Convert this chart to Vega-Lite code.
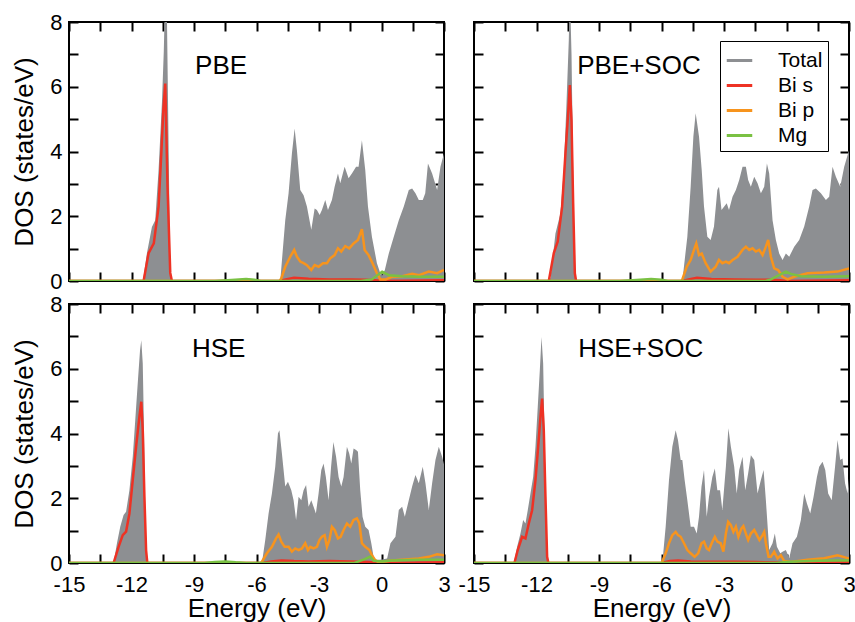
{
"$schema": "https://vega.github.io/schema/vega-lite/v6.json",
"background": "white",
"padding": {"left": 10, "top": 10, "right": 5, "bottom": 0},
"config": {
  "font": "Liberation Sans",
  "view": {"stroke": "black", "strokeWidth": 2},
  "axis": {"domain": false, "grid": false, "tickColor": "black", "tickWidth": 2, "tickSize": -9, "labelColor": "black", "labelFontSize": 22, "labelFlush": false, "labelOverlap": false, "titleColor": "black", "titleFontSize": 26, "titleFontWeight": "normal"}
},
"datasets": {
"dos": [
{"p":"PBE","k":"Total","e":-15,"v":0},{"p":"PBE","k":"Total","e":-11.45,"v":0},{"p":"PBE","k":"Total","e":-11.26,"v":0.86},{"p":"PBE","k":"Total","e":-11.02,"v":1.67},{"p":"PBE","k":"Total","e":-10.86,"v":1.88},{"p":"PBE","k":"Total","e":-10.7,"v":3.43},{"p":"PBE","k":"Total","e":-10.54,"v":5.5},{"p":"PBE","k":"Total","e":-10.45,"v":7.1},{"p":"PBE","k":"Total","e":-10.38,"v":9},{"p":"PBE","k":"Total","e":-10.3,"v":8.2},{"p":"PBE","k":"Total","e":-10.21,"v":3.7},{"p":"PBE","k":"Total","e":-10.14,"v":0.3},{"p":"PBE","k":"Total","e":-10.05,"v":0},{"p":"PBE","k":"Total","e":-7.5,"v":0},{"p":"PBE","k":"Total","e":-7,"v":0.03},{"p":"PBE","k":"Total","e":-6.5,"v":0.05},{"p":"PBE","k":"Total","e":-6.1,"v":0.03},{"p":"PBE","k":"Total","e":-5.6,"v":0},{"p":"PBE","k":"Total","e":-4.86,"v":0},{"p":"PBE","k":"Total","e":-4.62,"v":1.88},{"p":"PBE","k":"Total","e":-4.46,"v":2.71},{"p":"PBE","k":"Total","e":-4.3,"v":3.94},{"p":"PBE","k":"Total","e":-4.17,"v":4.71},{"p":"PBE","k":"Total","e":-4.06,"v":4.04},{"p":"PBE","k":"Total","e":-3.9,"v":2.81},{"p":"PBE","k":"Total","e":-3.74,"v":2.65},{"p":"PBE","k":"Total","e":-3.58,"v":2.3},{"p":"PBE","k":"Total","e":-3.37,"v":1.58},{"p":"PBE","k":"Total","e":-3.21,"v":2.24},{"p":"PBE","k":"Total","e":-3.1,"v":2.19},{"p":"PBE","k":"Total","e":-2.97,"v":2.04},{"p":"PBE","k":"Total","e":-2.86,"v":2.19},{"p":"PBE","k":"Total","e":-2.7,"v":2.5},{"p":"PBE","k":"Total","e":-2.57,"v":2.19},{"p":"PBE","k":"Total","e":-2.38,"v":2.5},{"p":"PBE","k":"Total","e":-2.25,"v":2.91},{"p":"PBE","k":"Total","e":-2.09,"v":3.32},{"p":"PBE","k":"Total","e":-1.98,"v":3.02},{"p":"PBE","k":"Total","e":-1.77,"v":3.53},{"p":"PBE","k":"Total","e":-1.58,"v":3.17},{"p":"PBE","k":"Total","e":-1.42,"v":3.32},{"p":"PBE","k":"Total","e":-1.22,"v":3.53},{"p":"PBE","k":"Total","e":-1.1,"v":3.53},{"p":"PBE","k":"Total","e":-0.94,"v":4.35},{"p":"PBE","k":"Total","e":-0.78,"v":3.43},{"p":"PBE","k":"Total","e":-0.65,"v":2.3},{"p":"PBE","k":"Total","e":-0.46,"v":1.37},{"p":"PBE","k":"Total","e":-0.22,"v":0.55},{"p":"PBE","k":"Total","e":0,"v":0.13},{"p":"PBE","k":"Total","e":0.16,"v":0.34},{"p":"PBE","k":"Total","e":0.35,"v":0.85},{"p":"PBE","k":"Total","e":0.59,"v":1.37},{"p":"PBE","k":"Total","e":0.83,"v":1.88},{"p":"PBE","k":"Total","e":1.07,"v":2.3},{"p":"PBE","k":"Total","e":1.31,"v":2.81},{"p":"PBE","k":"Total","e":1.47,"v":2.86},{"p":"PBE","k":"Total","e":1.63,"v":2.71},{"p":"PBE","k":"Total","e":1.79,"v":2.5},{"p":"PBE","k":"Total","e":1.98,"v":2.5},{"p":"PBE","k":"Total","e":2.1,"v":2.71},{"p":"PBE","k":"Total","e":2.23,"v":3.63},{"p":"PBE","k":"Total","e":2.43,"v":3.32},{"p":"PBE","k":"Total","e":2.67,"v":2.81},{"p":"PBE","k":"Total","e":2.83,"v":3.53},{"p":"PBE","k":"Total","e":3,"v":3.94},
{"p":"PBE","k":"Bi s","e":-15,"v":0},{"p":"PBE","k":"Bi s","e":-11.42,"v":0},{"p":"PBE","k":"Bi s","e":-11.18,"v":0.86},{"p":"PBE","k":"Bi s","e":-10.93,"v":1.16},{"p":"PBE","k":"Bi s","e":-10.7,"v":2.3},{"p":"PBE","k":"Bi s","e":-10.57,"v":3.94},{"p":"PBE","k":"Bi s","e":-10.47,"v":5.3},{"p":"PBE","k":"Bi s","e":-10.38,"v":6.1},{"p":"PBE","k":"Bi s","e":-10.27,"v":2.9},{"p":"PBE","k":"Bi s","e":-10.14,"v":0.25},{"p":"PBE","k":"Bi s","e":-10.06,"v":0},{"p":"PBE","k":"Bi s","e":-4.9,"v":0},{"p":"PBE","k":"Bi s","e":-4.6,"v":0.05},{"p":"PBE","k":"Bi s","e":-4.2,"v":0.1},{"p":"PBE","k":"Bi s","e":-3.5,"v":0.07},{"p":"PBE","k":"Bi s","e":-2.5,"v":0.05},{"p":"PBE","k":"Bi s","e":-1.5,"v":0.05},{"p":"PBE","k":"Bi s","e":-0.8,"v":0.04},{"p":"PBE","k":"Bi s","e":-0.3,"v":0.02},{"p":"PBE","k":"Bi s","e":0,"v":0},{"p":"PBE","k":"Bi s","e":3,"v":0.02},
{"p":"PBE","k":"Bi p","e":-15,"v":0},{"p":"PBE","k":"Bi p","e":-4.9,"v":0},{"p":"PBE","k":"Bi p","e":-4.81,"v":0.08},{"p":"PBE","k":"Bi p","e":-4.62,"v":0.44},{"p":"PBE","k":"Bi p","e":-4.38,"v":0.75},{"p":"PBE","k":"Bi p","e":-4.19,"v":0.96},{"p":"PBE","k":"Bi p","e":-4.06,"v":0.75},{"p":"PBE","k":"Bi p","e":-3.9,"v":0.6},{"p":"PBE","k":"Bi p","e":-3.74,"v":0.55},{"p":"PBE","k":"Bi p","e":-3.58,"v":0.49},{"p":"PBE","k":"Bi p","e":-3.37,"v":0.34},{"p":"PBE","k":"Bi p","e":-3.21,"v":0.49},{"p":"PBE","k":"Bi p","e":-3.02,"v":0.44},{"p":"PBE","k":"Bi p","e":-2.81,"v":0.55},{"p":"PBE","k":"Bi p","e":-2.62,"v":0.55},{"p":"PBE","k":"Bi p","e":-2.46,"v":0.7},{"p":"PBE","k":"Bi p","e":-2.25,"v":0.8},{"p":"PBE","k":"Bi p","e":-2.09,"v":1.01},{"p":"PBE","k":"Bi p","e":-1.93,"v":0.91},{"p":"PBE","k":"Bi p","e":-1.74,"v":1.08},{"p":"PBE","k":"Bi p","e":-1.55,"v":1.01},{"p":"PBE","k":"Bi p","e":-1.34,"v":1.16},{"p":"PBE","k":"Bi p","e":-1.13,"v":1.27},{"p":"PBE","k":"Bi p","e":-0.94,"v":1.6},{"p":"PBE","k":"Bi p","e":-0.81,"v":0.96},{"p":"PBE","k":"Bi p","e":-0.62,"v":0.8},{"p":"PBE","k":"Bi p","e":-0.43,"v":0.55},{"p":"PBE","k":"Bi p","e":-0.22,"v":0.24},{"p":"PBE","k":"Bi p","e":-0.06,"v":0.05},{"p":"PBE","k":"Bi p","e":0.2,"v":0.05},{"p":"PBE","k":"Bi p","e":0.51,"v":0.13},{"p":"PBE","k":"Bi p","e":1,"v":0.15},{"p":"PBE","k":"Bi p","e":1.47,"v":0.22},{"p":"PBE","k":"Bi p","e":1.8,"v":0.18},{"p":"PBE","k":"Bi p","e":2.27,"v":0.29},{"p":"PBE","k":"Bi p","e":2.67,"v":0.24},{"p":"PBE","k":"Bi p","e":3,"v":0.34},
{"p":"PBE","k":"Mg","e":-15,"v":0},{"p":"PBE","k":"Mg","e":-8,"v":0},{"p":"PBE","k":"Mg","e":-7.2,"v":0.03},{"p":"PBE","k":"Mg","e":-6.5,"v":0.06},{"p":"PBE","k":"Mg","e":-6.1,"v":0.04},{"p":"PBE","k":"Mg","e":-5.8,"v":0},{"p":"PBE","k":"Mg","e":-1,"v":0},{"p":"PBE","k":"Mg","e":-0.46,"v":0.05},{"p":"PBE","k":"Mg","e":0.03,"v":0.29},{"p":"PBE","k":"Mg","e":0.35,"v":0.18},{"p":"PBE","k":"Mg","e":0.99,"v":0.15},{"p":"PBE","k":"Mg","e":1.79,"v":0.13},{"p":"PBE","k":"Mg","e":3,"v":0.13},

{"p":"PBE+SOC","k":"Total","e":-15,"v":0},{"p":"PBE+SOC","k":"Total","e":-11.4,"v":0},{"p":"PBE+SOC","k":"Total","e":-11.33,"v":0.1},{"p":"PBE+SOC","k":"Total","e":-11.09,"v":1.47},{"p":"PBE+SOC","k":"Total","e":-10.85,"v":2.09},{"p":"PBE+SOC","k":"Total","e":-10.69,"v":3.43},{"p":"PBE+SOC","k":"Total","e":-10.56,"v":5.49},{"p":"PBE+SOC","k":"Total","e":-10.45,"v":7.44},{"p":"PBE+SOC","k":"Total","e":-10.4,"v":9},{"p":"PBE+SOC","k":"Total","e":-10.32,"v":7.03},{"p":"PBE+SOC","k":"Total","e":-10.24,"v":3.43},{"p":"PBE+SOC","k":"Total","e":-10.16,"v":0.24},{"p":"PBE+SOC","k":"Total","e":-10.08,"v":0},{"p":"PBE+SOC","k":"Total","e":-7.5,"v":0},{"p":"PBE+SOC","k":"Total","e":-7,"v":0.03},{"p":"PBE+SOC","k":"Total","e":-6.5,"v":0.05},{"p":"PBE+SOC","k":"Total","e":-6,"v":0.03},{"p":"PBE+SOC","k":"Total","e":-5.5,"v":0},{"p":"PBE+SOC","k":"Total","e":-5,"v":0},{"p":"PBE+SOC","k":"Total","e":-4.76,"v":1.37},{"p":"PBE+SOC","k":"Total","e":-4.6,"v":2.91},{"p":"PBE+SOC","k":"Total","e":-4.47,"v":4.46},{"p":"PBE+SOC","k":"Total","e":-4.36,"v":5.18},{"p":"PBE+SOC","k":"Total","e":-4.2,"v":4.46},{"p":"PBE+SOC","k":"Total","e":-4.07,"v":3.43},{"p":"PBE+SOC","k":"Total","e":-3.96,"v":2.3},{"p":"PBE+SOC","k":"Total","e":-3.8,"v":1.37},{"p":"PBE+SOC","k":"Total","e":-3.64,"v":1.27},{"p":"PBE+SOC","k":"Total","e":-3.48,"v":1.68},{"p":"PBE+SOC","k":"Total","e":-3.32,"v":2.81},{"p":"PBE+SOC","k":"Total","e":-3.24,"v":2.91},{"p":"PBE+SOC","k":"Total","e":-3.12,"v":2.19},{"p":"PBE+SOC","k":"Total","e":-2.99,"v":2.3},{"p":"PBE+SOC","k":"Total","e":-2.87,"v":2.4},{"p":"PBE+SOC","k":"Total","e":-2.76,"v":2.19},{"p":"PBE+SOC","k":"Total","e":-2.59,"v":2.6},{"p":"PBE+SOC","k":"Total","e":-2.43,"v":2.81},{"p":"PBE+SOC","k":"Total","e":-2.27,"v":3.12},{"p":"PBE+SOC","k":"Total","e":-2.11,"v":3.53},{"p":"PBE+SOC","k":"Total","e":-1.95,"v":3.53},{"p":"PBE+SOC","k":"Total","e":-1.84,"v":3.12},{"p":"PBE+SOC","k":"Total","e":-1.71,"v":2.91},{"p":"PBE+SOC","k":"Total","e":-1.55,"v":3.22},{"p":"PBE+SOC","k":"Total","e":-1.39,"v":3.02},{"p":"PBE+SOC","k":"Total","e":-1.23,"v":2.71},{"p":"PBE+SOC","k":"Total","e":-1.07,"v":2.91},{"p":"PBE+SOC","k":"Total","e":-0.94,"v":3.63},{"p":"PBE+SOC","k":"Total","e":-0.83,"v":3.32},{"p":"PBE+SOC","k":"Total","e":-0.67,"v":1.88},{"p":"PBE+SOC","k":"Total","e":-0.51,"v":1.27},{"p":"PBE+SOC","k":"Total","e":-0.35,"v":0.85},{"p":"PBE+SOC","k":"Total","e":-0.19,"v":0.65},{"p":"PBE+SOC","k":"Total","e":-0.03,"v":0.85},{"p":"PBE+SOC","k":"Total","e":0.13,"v":0.75},{"p":"PBE+SOC","k":"Total","e":0.37,"v":1.06},{"p":"PBE+SOC","k":"Total","e":0.61,"v":1.27},{"p":"PBE+SOC","k":"Total","e":0.85,"v":1.68},{"p":"PBE+SOC","k":"Total","e":1.09,"v":2.3},{"p":"PBE+SOC","k":"Total","e":1.25,"v":2.81},{"p":"PBE+SOC","k":"Total","e":1.41,"v":2.86},{"p":"PBE+SOC","k":"Total","e":1.65,"v":2.71},{"p":"PBE+SOC","k":"Total","e":1.89,"v":2.5},{"p":"PBE+SOC","k":"Total","e":2.05,"v":2.6},{"p":"PBE+SOC","k":"Total","e":2.21,"v":3.53},{"p":"PBE+SOC","k":"Total","e":2.37,"v":3.22},{"p":"PBE+SOC","k":"Total","e":2.58,"v":2.91},{"p":"PBE+SOC","k":"Total","e":2.77,"v":3.53},{"p":"PBE+SOC","k":"Total","e":3,"v":4.04},
{"p":"PBE+SOC","k":"Bi s","e":-15,"v":0},{"p":"PBE+SOC","k":"Bi s","e":-11.41,"v":0},{"p":"PBE+SOC","k":"Bi s","e":-11.17,"v":0.86},{"p":"PBE+SOC","k":"Bi s","e":-10.98,"v":1.22},{"p":"PBE+SOC","k":"Bi s","e":-10.77,"v":2.3},{"p":"PBE+SOC","k":"Bi s","e":-10.61,"v":3.95},{"p":"PBE+SOC","k":"Bi s","e":-10.48,"v":5.18},{"p":"PBE+SOC","k":"Bi s","e":-10.4,"v":6.05},{"p":"PBE+SOC","k":"Bi s","e":-10.32,"v":4.97},{"p":"PBE+SOC","k":"Bi s","e":-10.24,"v":2.4},{"p":"PBE+SOC","k":"Bi s","e":-10.16,"v":0.24},{"p":"PBE+SOC","k":"Bi s","e":-10.1,"v":0},{"p":"PBE+SOC","k":"Bi s","e":-5,"v":0},{"p":"PBE+SOC","k":"Bi s","e":-4.7,"v":0.05},{"p":"PBE+SOC","k":"Bi s","e":-4.3,"v":0.1},{"p":"PBE+SOC","k":"Bi s","e":-3.6,"v":0.06},{"p":"PBE+SOC","k":"Bi s","e":-2.5,"v":0.05},{"p":"PBE+SOC","k":"Bi s","e":-1.5,"v":0.04},{"p":"PBE+SOC","k":"Bi s","e":-0.8,"v":0.04},{"p":"PBE+SOC","k":"Bi s","e":-0.3,"v":0.02},{"p":"PBE+SOC","k":"Bi s","e":0,"v":0},{"p":"PBE+SOC","k":"Bi s","e":3,"v":0.02},
{"p":"PBE+SOC","k":"Bi p","e":-15,"v":0},{"p":"PBE+SOC","k":"Bi p","e":-5.05,"v":0},{"p":"PBE+SOC","k":"Bi p","e":-5,"v":0.05},{"p":"PBE+SOC","k":"Bi p","e":-4.79,"v":0.44},{"p":"PBE+SOC","k":"Bi p","e":-4.6,"v":0.65},{"p":"PBE+SOC","k":"Bi p","e":-4.44,"v":0.96},{"p":"PBE+SOC","k":"Bi p","e":-4.33,"v":1.16},{"p":"PBE+SOC","k":"Bi p","e":-4.2,"v":0.8},{"p":"PBE+SOC","k":"Bi p","e":-4.07,"v":0.85},{"p":"PBE+SOC","k":"Bi p","e":-3.88,"v":0.55},{"p":"PBE+SOC","k":"Bi p","e":-3.64,"v":0.29},{"p":"PBE+SOC","k":"Bi p","e":-3.4,"v":0.44},{"p":"PBE+SOC","k":"Bi p","e":-3.24,"v":0.65},{"p":"PBE+SOC","k":"Bi p","e":-3.08,"v":0.55},{"p":"PBE+SOC","k":"Bi p","e":-2.91,"v":0.6},{"p":"PBE+SOC","k":"Bi p","e":-2.76,"v":0.55},{"p":"PBE+SOC","k":"Bi p","e":-2.59,"v":0.65},{"p":"PBE+SOC","k":"Bi p","e":-2.35,"v":0.75},{"p":"PBE+SOC","k":"Bi p","e":-2.11,"v":0.96},{"p":"PBE+SOC","k":"Bi p","e":-1.95,"v":1.06},{"p":"PBE+SOC","k":"Bi p","e":-1.79,"v":0.96},{"p":"PBE+SOC","k":"Bi p","e":-1.63,"v":1.01},{"p":"PBE+SOC","k":"Bi p","e":-1.47,"v":0.91},{"p":"PBE+SOC","k":"Bi p","e":-1.31,"v":0.96},{"p":"PBE+SOC","k":"Bi p","e":-1.15,"v":0.8},{"p":"PBE+SOC","k":"Bi p","e":-0.99,"v":1.06},{"p":"PBE+SOC","k":"Bi p","e":-0.88,"v":1.27},{"p":"PBE+SOC","k":"Bi p","e":-0.75,"v":0.75},{"p":"PBE+SOC","k":"Bi p","e":-0.59,"v":0.39},{"p":"PBE+SOC","k":"Bi p","e":-0.4,"v":0.34},{"p":"PBE+SOC","k":"Bi p","e":-0.19,"v":0.13},{"p":"PBE+SOC","k":"Bi p","e":0.05,"v":0.05},{"p":"PBE+SOC","k":"Bi p","e":0.37,"v":0.13},{"p":"PBE+SOC","k":"Bi p","e":1.01,"v":0.24},{"p":"PBE+SOC","k":"Bi p","e":1.81,"v":0.26},{"p":"PBE+SOC","k":"Bi p","e":2.45,"v":0.29},{"p":"PBE+SOC","k":"Bi p","e":3,"v":0.39},
{"p":"PBE+SOC","k":"Mg","e":-15,"v":0},{"p":"PBE+SOC","k":"Mg","e":-8,"v":0},{"p":"PBE+SOC","k":"Mg","e":-7.2,"v":0.03},{"p":"PBE+SOC","k":"Mg","e":-6.5,"v":0.06},{"p":"PBE+SOC","k":"Mg","e":-6,"v":0.04},{"p":"PBE+SOC","k":"Mg","e":-5.7,"v":0},{"p":"PBE+SOC","k":"Mg","e":-1,"v":0},{"p":"PBE+SOC","k":"Mg","e":-0.75,"v":0.05},{"p":"PBE+SOC","k":"Mg","e":-0.03,"v":0.29},{"p":"PBE+SOC","k":"Mg","e":0.21,"v":0.22},{"p":"PBE+SOC","k":"Mg","e":0.69,"v":0.15},{"p":"PBE+SOC","k":"Mg","e":1.81,"v":0.13},{"p":"PBE+SOC","k":"Mg","e":3,"v":0.15},

{"p":"HSE","k":"Total","e":-15,"v":0},{"p":"HSE","k":"Total","e":-12.86,"v":0},{"p":"HSE","k":"Total","e":-12.7,"v":0.6},{"p":"HSE","k":"Total","e":-12.54,"v":1.12},{"p":"HSE","k":"Total","e":-12.38,"v":1.48},{"p":"HSE","k":"Total","e":-12.26,"v":1.58},{"p":"HSE","k":"Total","e":-12.1,"v":2.25},{"p":"HSE","k":"Total","e":-11.94,"v":3.28},{"p":"HSE","k":"Total","e":-11.82,"v":4.41},{"p":"HSE","k":"Total","e":-11.69,"v":5.65},{"p":"HSE","k":"Total","e":-11.59,"v":6.57},{"p":"HSE","k":"Total","e":-11.53,"v":6.88},{"p":"HSE","k":"Total","e":-11.46,"v":6.16},{"p":"HSE","k":"Total","e":-11.4,"v":4.1},{"p":"HSE","k":"Total","e":-11.34,"v":1.53},{"p":"HSE","k":"Total","e":-11.26,"v":0.09},{"p":"HSE","k":"Total","e":-11.18,"v":0},{"p":"HSE","k":"Total","e":-8.5,"v":0},{"p":"HSE","k":"Total","e":-8,"v":0.03},{"p":"HSE","k":"Total","e":-7.5,"v":0.05},{"p":"HSE","k":"Total","e":-7,"v":0.03},{"p":"HSE","k":"Total","e":-6.5,"v":0},{"p":"HSE","k":"Total","e":-5.74,"v":0},{"p":"HSE","k":"Total","e":-5.58,"v":0.71},{"p":"HSE","k":"Total","e":-5.42,"v":1.53},{"p":"HSE","k":"Total","e":-5.26,"v":2.15},{"p":"HSE","k":"Total","e":-5.1,"v":2.97},{"p":"HSE","k":"Total","e":-4.97,"v":4},{"p":"HSE","k":"Total","e":-4.9,"v":4.1},{"p":"HSE","k":"Total","e":-4.78,"v":3.38},{"p":"HSE","k":"Total","e":-4.62,"v":2.36},{"p":"HSE","k":"Total","e":-4.49,"v":2.51},{"p":"HSE","k":"Total","e":-4.33,"v":2.25},{"p":"HSE","k":"Total","e":-4.22,"v":1.94},{"p":"HSE","k":"Total","e":-4.1,"v":1.33},{"p":"HSE","k":"Total","e":-3.98,"v":2.05},{"p":"HSE","k":"Total","e":-3.85,"v":1.94},{"p":"HSE","k":"Total","e":-3.74,"v":2.25},{"p":"HSE","k":"Total","e":-3.62,"v":2.41},{"p":"HSE","k":"Total","e":-3.5,"v":1.74},{"p":"HSE","k":"Total","e":-3.37,"v":1.94},{"p":"HSE","k":"Total","e":-3.26,"v":1.74},{"p":"HSE","k":"Total","e":-3.15,"v":1.53},{"p":"HSE","k":"Total","e":-3.02,"v":2.15},{"p":"HSE","k":"Total","e":-2.89,"v":2.87},{"p":"HSE","k":"Total","e":-2.78,"v":3.07},{"p":"HSE","k":"Total","e":-2.67,"v":2.66},{"p":"HSE","k":"Total","e":-2.54,"v":1.94},{"p":"HSE","k":"Total","e":-2.42,"v":2.97},{"p":"HSE","k":"Total","e":-2.31,"v":3.74},{"p":"HSE","k":"Total","e":-2.18,"v":3.28},{"p":"HSE","k":"Total","e":-2.06,"v":2.66},{"p":"HSE","k":"Total","e":-1.93,"v":2.36},{"p":"HSE","k":"Total","e":-1.82,"v":2.66},{"p":"HSE","k":"Total","e":-1.66,"v":3.59},{"p":"HSE","k":"Total","e":-1.55,"v":3.38},{"p":"HSE","k":"Total","e":-1.45,"v":3.07},{"p":"HSE","k":"Total","e":-1.34,"v":3.54},{"p":"HSE","k":"Total","e":-1.22,"v":3.49},{"p":"HSE","k":"Total","e":-1.13,"v":3.44},{"p":"HSE","k":"Total","e":-1.02,"v":2.25},{"p":"HSE","k":"Total","e":-0.91,"v":1.43},{"p":"HSE","k":"Total","e":-0.78,"v":1.12},{"p":"HSE","k":"Total","e":-0.62,"v":1.02},{"p":"HSE","k":"Total","e":-0.49,"v":0.61},{"p":"HSE","k":"Total","e":-0.38,"v":0.19},{"p":"HSE","k":"Total","e":-0.27,"v":0.09},{"p":"HSE","k":"Total","e":0.03,"v":0.11},{"p":"HSE","k":"Total","e":0.27,"v":0.14},{"p":"HSE","k":"Total","e":0.43,"v":0.61},{"p":"HSE","k":"Total","e":0.67,"v":0.81},{"p":"HSE","k":"Total","e":0.83,"v":1.64},{"p":"HSE","k":"Total","e":0.99,"v":1.74},{"p":"HSE","k":"Total","e":1.12,"v":1.43},{"p":"HSE","k":"Total","e":1.31,"v":1.94},{"p":"HSE","k":"Total","e":1.47,"v":2.36},{"p":"HSE","k":"Total","e":1.63,"v":2.72},{"p":"HSE","k":"Total","e":1.79,"v":2.46},{"p":"HSE","k":"Total","e":1.98,"v":2.97},{"p":"HSE","k":"Total","e":2.11,"v":2.46},{"p":"HSE","k":"Total","e":2.27,"v":1.64},{"p":"HSE","k":"Total","e":2.43,"v":2.46},{"p":"HSE","k":"Total","e":2.59,"v":3.18},{"p":"HSE","k":"Total","e":2.75,"v":3.59},{"p":"HSE","k":"Total","e":2.91,"v":3.28},{"p":"HSE","k":"Total","e":3,"v":3.05},
{"p":"HSE","k":"Bi s","e":-15,"v":0},{"p":"HSE","k":"Bi s","e":-12.86,"v":0},{"p":"HSE","k":"Bi s","e":-12.62,"v":0.5},{"p":"HSE","k":"Bi s","e":-12.42,"v":0.86},{"p":"HSE","k":"Bi s","e":-12.26,"v":0.97},{"p":"HSE","k":"Bi s","e":-12.1,"v":1.53},{"p":"HSE","k":"Bi s","e":-11.94,"v":2.56},{"p":"HSE","k":"Bi s","e":-11.78,"v":3.59},{"p":"HSE","k":"Bi s","e":-11.62,"v":4.52},{"p":"HSE","k":"Bi s","e":-11.53,"v":4.98},{"p":"HSE","k":"Bi s","e":-11.46,"v":4.1},{"p":"HSE","k":"Bi s","e":-11.38,"v":2.05},{"p":"HSE","k":"Bi s","e":-11.3,"v":0.4},{"p":"HSE","k":"Bi s","e":-11.24,"v":0},{"p":"HSE","k":"Bi s","e":-5.7,"v":0},{"p":"HSE","k":"Bi s","e":-5.3,"v":0.05},{"p":"HSE","k":"Bi s","e":-4.8,"v":0.08},{"p":"HSE","k":"Bi s","e":-4.2,"v":0.06},{"p":"HSE","k":"Bi s","e":-3.5,"v":0.05},{"p":"HSE","k":"Bi s","e":-2.5,"v":0.06},{"p":"HSE","k":"Bi s","e":-1.5,"v":0.05},{"p":"HSE","k":"Bi s","e":-0.6,"v":0.03},{"p":"HSE","k":"Bi s","e":0,"v":0},{"p":"HSE","k":"Bi s","e":3,"v":0.02},
{"p":"HSE","k":"Bi p","e":-15,"v":0},{"p":"HSE","k":"Bi p","e":-5.8,"v":0},{"p":"HSE","k":"Bi p","e":-5.74,"v":0.04},{"p":"HSE","k":"Bi p","e":-5.5,"v":0.3},{"p":"HSE","k":"Bi p","e":-5.26,"v":0.5},{"p":"HSE","k":"Bi p","e":-5.06,"v":0.76},{"p":"HSE","k":"Bi p","e":-4.94,"v":0.88},{"p":"HSE","k":"Bi p","e":-4.81,"v":0.66},{"p":"HSE","k":"Bi p","e":-4.65,"v":0.5},{"p":"HSE","k":"Bi p","e":-4.46,"v":0.5},{"p":"HSE","k":"Bi p","e":-4.3,"v":0.35},{"p":"HSE","k":"Bi p","e":-4.14,"v":0.45},{"p":"HSE","k":"Bi p","e":-3.98,"v":0.4},{"p":"HSE","k":"Bi p","e":-3.82,"v":0.45},{"p":"HSE","k":"Bi p","e":-3.66,"v":0.61},{"p":"HSE","k":"Bi p","e":-3.53,"v":0.4},{"p":"HSE","k":"Bi p","e":-3.42,"v":0.5},{"p":"HSE","k":"Bi p","e":-3.26,"v":0.45},{"p":"HSE","k":"Bi p","e":-3.1,"v":0.5},{"p":"HSE","k":"Bi p","e":-2.98,"v":0.71},{"p":"HSE","k":"Bi p","e":-2.86,"v":0.81},{"p":"HSE","k":"Bi p","e":-2.73,"v":0.86},{"p":"HSE","k":"Bi p","e":-2.62,"v":0.5},{"p":"HSE","k":"Bi p","e":-2.5,"v":0.71},{"p":"HSE","k":"Bi p","e":-2.38,"v":1.12},{"p":"HSE","k":"Bi p","e":-2.25,"v":1.02},{"p":"HSE","k":"Bi p","e":-2.09,"v":0.76},{"p":"HSE","k":"Bi p","e":-1.96,"v":0.81},{"p":"HSE","k":"Bi p","e":-1.82,"v":1.02},{"p":"HSE","k":"Bi p","e":-1.66,"v":1.22},{"p":"HSE","k":"Bi p","e":-1.5,"v":1.12},{"p":"HSE","k":"Bi p","e":-1.34,"v":1.33},{"p":"HSE","k":"Bi p","e":-1.18,"v":1.38},{"p":"HSE","k":"Bi p","e":-1.06,"v":1.22},{"p":"HSE","k":"Bi p","e":-0.94,"v":0.61},{"p":"HSE","k":"Bi p","e":-0.78,"v":0.5},{"p":"HSE","k":"Bi p","e":-0.58,"v":0.4},{"p":"HSE","k":"Bi p","e":-0.46,"v":0.24},{"p":"HSE","k":"Bi p","e":-0.3,"v":0.09},{"p":"HSE","k":"Bi p","e":-0.14,"v":0.02},{"p":"HSE","k":"Bi p","e":0.5,"v":0.08},{"p":"HSE","k":"Bi p","e":1.79,"v":0.14},{"p":"HSE","k":"Bi p","e":2.27,"v":0.19},{"p":"HSE","k":"Bi p","e":2.67,"v":0.27},{"p":"HSE","k":"Bi p","e":3,"v":0.24},
{"p":"HSE","k":"Mg","e":-15,"v":0},{"p":"HSE","k":"Mg","e":-8.5,"v":0},{"p":"HSE","k":"Mg","e":-8,"v":0.03},{"p":"HSE","k":"Mg","e":-7.5,"v":0.05},{"p":"HSE","k":"Mg","e":-7,"v":0.02},{"p":"HSE","k":"Mg","e":-6.5,"v":0},{"p":"HSE","k":"Mg","e":-1.3,"v":0},{"p":"HSE","k":"Mg","e":-1.1,"v":0.05},{"p":"HSE","k":"Mg","e":-0.8,"v":0.12},{"p":"HSE","k":"Mg","e":-0.54,"v":0.2},{"p":"HSE","k":"Mg","e":-0.38,"v":0.07},{"p":"HSE","k":"Mg","e":0.03,"v":0.05},{"p":"HSE","k":"Mg","e":0.5,"v":0.08},{"p":"HSE","k":"Mg","e":1.79,"v":0.1},{"p":"HSE","k":"Mg","e":3,"v":0.1},

{"p":"HSE+SOC","k":"Total","e":-15,"v":0},{"p":"HSE+SOC","k":"Total","e":-13.09,"v":0},{"p":"HSE+SOC","k":"Total","e":-12.93,"v":0.5},{"p":"HSE+SOC","k":"Total","e":-12.77,"v":0.91},{"p":"HSE+SOC","k":"Total","e":-12.64,"v":1.33},{"p":"HSE+SOC","k":"Total","e":-12.53,"v":1.22},{"p":"HSE+SOC","k":"Total","e":-12.42,"v":1.63},{"p":"HSE+SOC","k":"Total","e":-12.29,"v":2.15},{"p":"HSE+SOC","k":"Total","e":-12.16,"v":2.66},{"p":"HSE+SOC","k":"Total","e":-12.05,"v":3.59},{"p":"HSE+SOC","k":"Total","e":-11.94,"v":4.82},{"p":"HSE+SOC","k":"Total","e":-11.84,"v":5.96},{"p":"HSE+SOC","k":"Total","e":-11.76,"v":6.98},{"p":"HSE+SOC","k":"Total","e":-11.68,"v":6.16},{"p":"HSE+SOC","k":"Total","e":-11.62,"v":4.1},{"p":"HSE+SOC","k":"Total","e":-11.54,"v":1.53},{"p":"HSE+SOC","k":"Total","e":-11.46,"v":0.09},{"p":"HSE+SOC","k":"Total","e":-11.39,"v":0},{"p":"HSE+SOC","k":"Total","e":-5.96,"v":0},{"p":"HSE+SOC","k":"Total","e":-5.8,"v":1.12},{"p":"HSE+SOC","k":"Total","e":-5.64,"v":2.56},{"p":"HSE+SOC","k":"Total","e":-5.48,"v":3.59},{"p":"HSE+SOC","k":"Total","e":-5.32,"v":4.1},{"p":"HSE+SOC","k":"Total","e":-5.21,"v":3.8},{"p":"HSE+SOC","k":"Total","e":-5.08,"v":3.18},{"p":"HSE+SOC","k":"Total","e":-5,"v":3.18},{"p":"HSE+SOC","k":"Total","e":-4.89,"v":2.56},{"p":"HSE+SOC","k":"Total","e":-4.76,"v":1.94},{"p":"HSE+SOC","k":"Total","e":-4.6,"v":1.12},{"p":"HSE+SOC","k":"Total","e":-4.44,"v":1.12},{"p":"HSE+SOC","k":"Total","e":-4.31,"v":0.91},{"p":"HSE+SOC","k":"Total","e":-4.2,"v":1.43},{"p":"HSE+SOC","k":"Total","e":-4.08,"v":2.36},{"p":"HSE+SOC","k":"Total","e":-3.96,"v":2.87},{"p":"HSE+SOC","k":"Total","e":-3.83,"v":1.43},{"p":"HSE+SOC","k":"Total","e":-3.72,"v":2.05},{"p":"HSE+SOC","k":"Total","e":-3.56,"v":2.66},{"p":"HSE+SOC","k":"Total","e":-3.44,"v":2.92},{"p":"HSE+SOC","k":"Total","e":-3.32,"v":2.25},{"p":"HSE+SOC","k":"Total","e":-3.19,"v":2.25},{"p":"HSE+SOC","k":"Total","e":-3.08,"v":1.64},{"p":"HSE+SOC","k":"Total","e":-2.91,"v":2.97},{"p":"HSE+SOC","k":"Total","e":-2.79,"v":4.16},{"p":"HSE+SOC","k":"Total","e":-2.67,"v":3.59},{"p":"HSE+SOC","k":"Total","e":-2.51,"v":2.97},{"p":"HSE+SOC","k":"Total","e":-2.39,"v":2.15},{"p":"HSE+SOC","k":"Total","e":-2.27,"v":2.87},{"p":"HSE+SOC","k":"Total","e":-2.11,"v":3.28},{"p":"HSE+SOC","k":"Total","e":-1.98,"v":2.25},{"p":"HSE+SOC","k":"Total","e":-1.84,"v":2.77},{"p":"HSE+SOC","k":"Total","e":-1.71,"v":3.33},{"p":"HSE+SOC","k":"Total","e":-1.55,"v":3.18},{"p":"HSE+SOC","k":"Total","e":-1.39,"v":2.15},{"p":"HSE+SOC","k":"Total","e":-1.23,"v":2.56},{"p":"HSE+SOC","k":"Total","e":-1.1,"v":2.87},{"p":"HSE+SOC","k":"Total","e":-0.99,"v":1.94},{"p":"HSE+SOC","k":"Total","e":-0.83,"v":0.4},{"p":"HSE+SOC","k":"Total","e":-0.67,"v":0.61},{"p":"HSE+SOC","k":"Total","e":-0.56,"v":0.91},{"p":"HSE+SOC","k":"Total","e":-0.46,"v":0.5},{"p":"HSE+SOC","k":"Total","e":-0.3,"v":0.3},{"p":"HSE+SOC","k":"Total","e":-0.19,"v":0.35},{"p":"HSE+SOC","k":"Total","e":-0.03,"v":0.4},{"p":"HSE+SOC","k":"Total","e":0.13,"v":0.15},{"p":"HSE+SOC","k":"Total","e":0.29,"v":0.61},{"p":"HSE+SOC","k":"Total","e":0.5,"v":0.81},{"p":"HSE+SOC","k":"Total","e":0.69,"v":1.33},{"p":"HSE+SOC","k":"Total","e":0.85,"v":2.15},{"p":"HSE+SOC","k":"Total","e":0.98,"v":1.84},{"p":"HSE+SOC","k":"Total","e":1.14,"v":1.53},{"p":"HSE+SOC","k":"Total","e":1.3,"v":2.05},{"p":"HSE+SOC","k":"Total","e":1.46,"v":2.66},{"p":"HSE+SOC","k":"Total","e":1.57,"v":2.97},{"p":"HSE+SOC","k":"Total","e":1.73,"v":3.13},{"p":"HSE+SOC","k":"Total","e":1.86,"v":2.87},{"p":"HSE+SOC","k":"Total","e":2,"v":2.15},{"p":"HSE+SOC","k":"Total","e":2.17,"v":1.94},{"p":"HSE+SOC","k":"Total","e":2.33,"v":2.97},{"p":"HSE+SOC","k":"Total","e":2.45,"v":3.8},{"p":"HSE+SOC","k":"Total","e":2.58,"v":3.18},{"p":"HSE+SOC","k":"Total","e":2.69,"v":3.23},{"p":"HSE+SOC","k":"Total","e":2.81,"v":2.46},{"p":"HSE+SOC","k":"Total","e":2.93,"v":2.15},{"p":"HSE+SOC","k":"Total","e":3,"v":2.6},
{"p":"HSE+SOC","k":"Bi s","e":-15,"v":0},{"p":"HSE+SOC","k":"Bi s","e":-13.06,"v":0},{"p":"HSE+SOC","k":"Bi s","e":-12.9,"v":0.4},{"p":"HSE+SOC","k":"Bi s","e":-12.69,"v":0.81},{"p":"HSE+SOC","k":"Bi s","e":-12.53,"v":0.76},{"p":"HSE+SOC","k":"Bi s","e":-12.37,"v":1.22},{"p":"HSE+SOC","k":"Bi s","e":-12.21,"v":1.63},{"p":"HSE+SOC","k":"Bi s","e":-12.05,"v":2.56},{"p":"HSE+SOC","k":"Bi s","e":-11.92,"v":3.59},{"p":"HSE+SOC","k":"Bi s","e":-11.81,"v":4.52},{"p":"HSE+SOC","k":"Bi s","e":-11.73,"v":5.08},{"p":"HSE+SOC","k":"Bi s","e":-11.65,"v":4.1},{"p":"HSE+SOC","k":"Bi s","e":-11.57,"v":2.05},{"p":"HSE+SOC","k":"Bi s","e":-11.49,"v":0.19},{"p":"HSE+SOC","k":"Bi s","e":-11.43,"v":0},{"p":"HSE+SOC","k":"Bi s","e":-6,"v":0},{"p":"HSE+SOC","k":"Bi s","e":-5.6,"v":0.06},{"p":"HSE+SOC","k":"Bi s","e":-5.2,"v":0.08},{"p":"HSE+SOC","k":"Bi s","e":-4.6,"v":0.05},{"p":"HSE+SOC","k":"Bi s","e":-3.5,"v":0.04},{"p":"HSE+SOC","k":"Bi s","e":-2.5,"v":0.04},{"p":"HSE+SOC","k":"Bi s","e":-1.5,"v":0.03},{"p":"HSE+SOC","k":"Bi s","e":0,"v":0.01},{"p":"HSE+SOC","k":"Bi s","e":3,"v":0.02},
{"p":"HSE+SOC","k":"Bi p","e":-15,"v":0},{"p":"HSE+SOC","k":"Bi p","e":-6,"v":0},{"p":"HSE+SOC","k":"Bi p","e":-5.96,"v":0.05},{"p":"HSE+SOC","k":"Bi p","e":-5.8,"v":0.3},{"p":"HSE+SOC","k":"Bi p","e":-5.64,"v":0.61},{"p":"HSE+SOC","k":"Bi p","e":-5.48,"v":0.86},{"p":"HSE+SOC","k":"Bi p","e":-5.32,"v":0.96},{"p":"HSE+SOC","k":"Bi p","e":-5.21,"v":0.86},{"p":"HSE+SOC","k":"Bi p","e":-5.08,"v":0.81},{"p":"HSE+SOC","k":"Bi p","e":-4.92,"v":0.61},{"p":"HSE+SOC","k":"Bi p","e":-4.76,"v":0.4},{"p":"HSE+SOC","k":"Bi p","e":-4.6,"v":0.3},{"p":"HSE+SOC","k":"Bi p","e":-4.41,"v":0.19},{"p":"HSE+SOC","k":"Bi p","e":-4.24,"v":0.3},{"p":"HSE+SOC","k":"Bi p","e":-4.08,"v":0.61},{"p":"HSE+SOC","k":"Bi p","e":-3.96,"v":0.66},{"p":"HSE+SOC","k":"Bi p","e":-3.83,"v":0.45},{"p":"HSE+SOC","k":"Bi p","e":-3.72,"v":0.4},{"p":"HSE+SOC","k":"Bi p","e":-3.59,"v":0.61},{"p":"HSE+SOC","k":"Bi p","e":-3.44,"v":0.81},{"p":"HSE+SOC","k":"Bi p","e":-3.32,"v":0.66},{"p":"HSE+SOC","k":"Bi p","e":-3.16,"v":0.61},{"p":"HSE+SOC","k":"Bi p","e":-3.03,"v":0.35},{"p":"HSE+SOC","k":"Bi p","e":-2.91,"v":0.91},{"p":"HSE+SOC","k":"Bi p","e":-2.8,"v":1.27},{"p":"HSE+SOC","k":"Bi p","e":-2.67,"v":1.17},{"p":"HSE+SOC","k":"Bi p","e":-2.55,"v":0.96},{"p":"HSE+SOC","k":"Bi p","e":-2.43,"v":1.12},{"p":"HSE+SOC","k":"Bi p","e":-2.31,"v":0.81},{"p":"HSE+SOC","k":"Bi p","e":-2.16,"v":1.07},{"p":"HSE+SOC","k":"Bi p","e":-2.07,"v":1.14},{"p":"HSE+SOC","k":"Bi p","e":-1.95,"v":0.91},{"p":"HSE+SOC","k":"Bi p","e":-1.84,"v":0.71},{"p":"HSE+SOC","k":"Bi p","e":-1.71,"v":0.91},{"p":"HSE+SOC","k":"Bi p","e":-1.55,"v":1.02},{"p":"HSE+SOC","k":"Bi p","e":-1.42,"v":0.86},{"p":"HSE+SOC","k":"Bi p","e":-1.3,"v":0.71},{"p":"HSE+SOC","k":"Bi p","e":-1.15,"v":0.86},{"p":"HSE+SOC","k":"Bi p","e":-1.07,"v":0.96},{"p":"HSE+SOC","k":"Bi p","e":-0.99,"v":0.61},{"p":"HSE+SOC","k":"Bi p","e":-0.86,"v":0.19},{"p":"HSE+SOC","k":"Bi p","e":-0.75,"v":0.19},{"p":"HSE+SOC","k":"Bi p","e":-0.59,"v":0.35},{"p":"HSE+SOC","k":"Bi p","e":-0.43,"v":0.14},{"p":"HSE+SOC","k":"Bi p","e":-0.27,"v":0.24},{"p":"HSE+SOC","k":"Bi p","e":-0.11,"v":0.06},{"p":"HSE+SOC","k":"Bi p","e":0.21,"v":0.03},{"p":"HSE+SOC","k":"Bi p","e":1.01,"v":0.1},{"p":"HSE+SOC","k":"Bi p","e":1.81,"v":0.15},{"p":"HSE+SOC","k":"Bi p","e":2.45,"v":0.24},{"p":"HSE+SOC","k":"Bi p","e":2.77,"v":0.18},{"p":"HSE+SOC","k":"Bi p","e":3,"v":0.14},
{"p":"HSE+SOC","k":"Mg","e":-15,"v":0},{"p":"HSE+SOC","k":"Mg","e":-0.5,"v":0},{"p":"HSE+SOC","k":"Mg","e":0,"v":0.03},{"p":"HSE+SOC","k":"Mg","e":0.5,"v":0.05},{"p":"HSE+SOC","k":"Mg","e":1.5,"v":0.07},{"p":"HSE+SOC","k":"Mg","e":2.5,"v":0.08},{"p":"HSE+SOC","k":"Mg","e":3,"v":0.08}
]
},
"data": {"name": "dos"},
"columns": 2,
"bounds": "flush",
"spacing": {"row": 23, "column": 30},
"concat": [
{
 "width": 375, "height": 259,
 "layer": [
  {"transform": [{"filter": "datum.p == 'PBE' && datum.k == 'Total'"}],
   "mark": {"type": "area", "clip": true, "opacity": 1, "fillOpacity": 1, "color": "#8d8f92"},
   "encoding": {
    "x": {"field": "e", "type": "quantitative", "scale": {"domain": [-15, 3], "nice": false, "zero": false}, "axis": {"orient": "bottom", "values": [-15,-13.5,-12,-10.5,-9,-7.5,-6,-4.5,-3,-1.5,0,1.5,3], "labels": false, "title": null}},
    "y": {"field": "v", "type": "quantitative", "stack": null, "scale": {"domain": [0, 8], "nice": false, "zero": false}, "axis": {"orient": "left", "values": [0,1,2,3,4,5,6,7,8], "labelExpr": "datum.value % 2 == 0 ? datum.label : ''", "labelPadding": 16, "title": "DOS (states/eV)", "titlePadding": 12}}
   }},
  {"transform": [{"filter": "datum.p == 'PBE' && datum.k == 'Bi s'"}],
   "mark": {"type": "line", "clip": true, "strokeWidth": 2.5},
   "encoding": {
    "x": {"field": "e", "type": "quantitative", "scale": {"domain": [-15, 3], "nice": false, "zero": false}, "axis": {"orient": "top", "values": [-15,-13.5,-12,-10.5,-9,-7.5,-6,-4.5,-3,-1.5,0,1.5,3], "labels": false, "title": null}},
    "y": {"field": "v", "type": "quantitative", "scale": {"domain": [0, 8], "nice": false, "zero": false}, "axis": {"orient": "right", "values": [0,1,2,3,4,5,6,7,8], "labels": false, "title": null}},
    "color": {"field": "k", "type": "nominal", "scale": {"domain": ["Total","Bi s","Bi p","Mg"], "range": ["#8d8f92","#ee3224","#f7941d","#7ac143"]},
     "legend": {"orient": "none", "legendX": 651, "legendY": 19, "title": null, "values": ["Total","Bi s","Bi p","Mg"], "symbolType": "stroke", "symbolSize": 650, "symbolStrokeWidth": 3, "labelFontSize": 21, "labelColor": "black", "labelOffset": 24, "labelAlign": "left", "rowPadding": 0, "padding": 5, "strokeColor": "black", "fillColor": "white"}}
   }},
  {"transform": [{"filter": "datum.p == 'PBE' && datum.k == 'Bi p'"}],
   "mark": {"type": "line", "clip": true, "strokeWidth": 2.5},
   "encoding": {
    "x": {"field": "e", "type": "quantitative", "scale": {"domain": [-15, 3], "nice": false, "zero": false}, "axis": null},
    "y": {"field": "v", "type": "quantitative", "scale": {"domain": [0, 8], "nice": false, "zero": false}, "axis": null},
    "color": {"field": "k", "type": "nominal", "scale": {"domain": ["Total","Bi s","Bi p","Mg"], "range": ["#8d8f92","#ee3224","#f7941d","#7ac143"]}}
   }},
  {"transform": [{"filter": "datum.p == 'PBE' && datum.k == 'Mg'"}],
   "mark": {"type": "line", "clip": true, "strokeWidth": 2.5},
   "encoding": {
    "x": {"field": "e", "type": "quantitative", "scale": {"domain": [-15, 3], "nice": false, "zero": false}, "axis": null},
    "y": {"field": "v", "type": "quantitative", "scale": {"domain": [0, 8], "nice": false, "zero": false}, "axis": null},
    "color": {"field": "k", "type": "nominal", "scale": {"domain": ["Total","Bi s","Bi p","Mg"], "range": ["#8d8f92","#ee3224","#f7941d","#7ac143"]}}
   }},
  {"data": {"values": [{"label": "PBE"}]},
   "mark": {"type": "text", "align": "left", "baseline": "middle", "fontSize": 26, "color": "black"},
   "encoding": {
    "x": {"datum": -8.95, "type": "quantitative", "axis": null},
    "y": {"datum": 6.64, "type": "quantitative", "axis": null},
    "text": {"field": "label"}
   }}
 ],
 "resolve": {"axis": {"x": "independent", "y": "independent"}}
},
{
 "width": 375, "height": 259,
 "layer": [
  {"transform": [{"filter": "datum.p == 'PBE+SOC' && datum.k == 'Total'"}],
   "mark": {"type": "area", "clip": true, "opacity": 1, "fillOpacity": 1, "color": "#8d8f92"},
   "encoding": {
    "x": {"field": "e", "type": "quantitative", "scale": {"domain": [-15, 3], "nice": false, "zero": false}, "axis": {"orient": "bottom", "values": [-15,-13.5,-12,-10.5,-9,-7.5,-6,-4.5,-3,-1.5,0,1.5,3], "labels": false, "title": null}},
    "y": {"field": "v", "type": "quantitative", "stack": null, "scale": {"domain": [0, 8], "nice": false, "zero": false}, "axis": {"orient": "left", "values": [0,1,2,3,4,5,6,7,8], "labels": false, "title": null}}
   }},
  {"transform": [{"filter": "datum.p == 'PBE+SOC' && datum.k == 'Bi s'"}],
   "mark": {"type": "line", "clip": true, "strokeWidth": 2.5},
   "encoding": {
    "x": {"field": "e", "type": "quantitative", "scale": {"domain": [-15, 3], "nice": false, "zero": false}, "axis": {"orient": "top", "values": [-15,-13.5,-12,-10.5,-9,-7.5,-6,-4.5,-3,-1.5,0,1.5,3], "labels": false, "title": null}},
    "y": {"field": "v", "type": "quantitative", "scale": {"domain": [0, 8], "nice": false, "zero": false}, "axis": {"orient": "right", "values": [0,1,2,3,4,5,6,7,8], "labels": false, "title": null}},
    "color": {"field": "k", "type": "nominal", "scale": {"domain": ["Total","Bi s","Bi p","Mg"], "range": ["#8d8f92","#ee3224","#f7941d","#7ac143"]}}
   }},
  {"transform": [{"filter": "datum.p == 'PBE+SOC' && datum.k == 'Bi p'"}],
   "mark": {"type": "line", "clip": true, "strokeWidth": 2.5},
   "encoding": {
    "x": {"field": "e", "type": "quantitative", "scale": {"domain": [-15, 3], "nice": false, "zero": false}, "axis": null},
    "y": {"field": "v", "type": "quantitative", "scale": {"domain": [0, 8], "nice": false, "zero": false}, "axis": null},
    "color": {"field": "k", "type": "nominal", "scale": {"domain": ["Total","Bi s","Bi p","Mg"], "range": ["#8d8f92","#ee3224","#f7941d","#7ac143"]}}
   }},
  {"transform": [{"filter": "datum.p == 'PBE+SOC' && datum.k == 'Mg'"}],
   "mark": {"type": "line", "clip": true, "strokeWidth": 2.5},
   "encoding": {
    "x": {"field": "e", "type": "quantitative", "scale": {"domain": [-15, 3], "nice": false, "zero": false}, "axis": null},
    "y": {"field": "v", "type": "quantitative", "scale": {"domain": [0, 8], "nice": false, "zero": false}, "axis": null},
    "color": {"field": "k", "type": "nominal", "scale": {"domain": ["Total","Bi s","Bi p","Mg"], "range": ["#8d8f92","#ee3224","#f7941d","#7ac143"]}}
   }},
  {"data": {"values": [{"label": "PBE+SOC"}]},
   "mark": {"type": "text", "align": "left", "baseline": "middle", "fontSize": 26, "color": "black"},
   "encoding": {
    "x": {"datum": -10.05, "type": "quantitative", "axis": null},
    "y": {"datum": 6.64, "type": "quantitative", "axis": null},
    "text": {"field": "label"}
   }}
 ],
 "resolve": {"axis": {"x": "independent", "y": "independent"}}
},
{
 "width": 375, "height": 259,
 "layer": [
  {"transform": [{"filter": "datum.p == 'HSE' && datum.k == 'Total'"}],
   "mark": {"type": "area", "clip": true, "opacity": 1, "fillOpacity": 1, "color": "#8d8f92"},
   "encoding": {
    "x": {"field": "e", "type": "quantitative", "scale": {"domain": [-15, 3], "nice": false, "zero": false}, "axis": {"orient": "bottom", "values": [-15,-13.5,-12,-10.5,-9,-7.5,-6,-4.5,-3,-1.5,0,1.5,3], "labelExpr": "datum.value % 3 == 0 ? replace(datum.label, '\u2212', '-') : ''", "labelPadding": 20, "title": "Energy (eV)", "titlePadding": 0}},
    "y": {"field": "v", "type": "quantitative", "stack": null, "scale": {"domain": [0, 8], "nice": false, "zero": false}, "axis": {"orient": "left", "values": [0,1,2,3,4,5,6,7,8], "labelExpr": "datum.value % 2 == 0 ? datum.label : ''", "labelPadding": 16, "title": "DOS (states/eV)", "titlePadding": 12}}
   }},
  {"transform": [{"filter": "datum.p == 'HSE' && datum.k == 'Bi s'"}],
   "mark": {"type": "line", "clip": true, "strokeWidth": 2.5},
   "encoding": {
    "x": {"field": "e", "type": "quantitative", "scale": {"domain": [-15, 3], "nice": false, "zero": false}, "axis": {"orient": "top", "values": [-15,-13.5,-12,-10.5,-9,-7.5,-6,-4.5,-3,-1.5,0,1.5,3], "labels": false, "title": null}},
    "y": {"field": "v", "type": "quantitative", "scale": {"domain": [0, 8], "nice": false, "zero": false}, "axis": {"orient": "right", "values": [0,1,2,3,4,5,6,7,8], "labels": false, "title": null}},
    "color": {"field": "k", "type": "nominal", "scale": {"domain": ["Total","Bi s","Bi p","Mg"], "range": ["#8d8f92","#ee3224","#f7941d","#7ac143"]}}
   }},
  {"transform": [{"filter": "datum.p == 'HSE' && datum.k == 'Bi p'"}],
   "mark": {"type": "line", "clip": true, "strokeWidth": 2.5},
   "encoding": {
    "x": {"field": "e", "type": "quantitative", "scale": {"domain": [-15, 3], "nice": false, "zero": false}, "axis": null},
    "y": {"field": "v", "type": "quantitative", "scale": {"domain": [0, 8], "nice": false, "zero": false}, "axis": null},
    "color": {"field": "k", "type": "nominal", "scale": {"domain": ["Total","Bi s","Bi p","Mg"], "range": ["#8d8f92","#ee3224","#f7941d","#7ac143"]}}
   }},
  {"transform": [{"filter": "datum.p == 'HSE' && datum.k == 'Mg'"}],
   "mark": {"type": "line", "clip": true, "strokeWidth": 2.5},
   "encoding": {
    "x": {"field": "e", "type": "quantitative", "scale": {"domain": [-15, 3], "nice": false, "zero": false}, "axis": null},
    "y": {"field": "v", "type": "quantitative", "scale": {"domain": [0, 8], "nice": false, "zero": false}, "axis": null},
    "color": {"field": "k", "type": "nominal", "scale": {"domain": ["Total","Bi s","Bi p","Mg"], "range": ["#8d8f92","#ee3224","#f7941d","#7ac143"]}}
   }},
  {"data": {"values": [{"label": "HSE"}]},
   "mark": {"type": "text", "align": "left", "baseline": "middle", "fontSize": 26, "color": "black"},
   "encoding": {
    "x": {"datum": -9.1, "type": "quantitative", "axis": null},
    "y": {"datum": 6.6, "type": "quantitative", "axis": null},
    "text": {"field": "label"}
   }}
 ],
 "resolve": {"axis": {"x": "independent", "y": "independent"}}
},
{
 "width": 375, "height": 259,
 "layer": [
  {"transform": [{"filter": "datum.p == 'HSE+SOC' && datum.k == 'Total'"}],
   "mark": {"type": "area", "clip": true, "opacity": 1, "fillOpacity": 1, "color": "#8d8f92"},
   "encoding": {
    "x": {"field": "e", "type": "quantitative", "scale": {"domain": [-15, 3], "nice": false, "zero": false}, "axis": {"orient": "bottom", "values": [-15,-13.5,-12,-10.5,-9,-7.5,-6,-4.5,-3,-1.5,0,1.5,3], "labelExpr": "datum.value % 3 == 0 ? replace(datum.label, '\u2212', '-') : ''", "labelPadding": 20, "title": "Energy (eV)", "titlePadding": 0}},
    "y": {"field": "v", "type": "quantitative", "stack": null, "scale": {"domain": [0, 8], "nice": false, "zero": false}, "axis": {"orient": "left", "values": [0,1,2,3,4,5,6,7,8], "labels": false, "title": null}}
   }},
  {"transform": [{"filter": "datum.p == 'HSE+SOC' && datum.k == 'Bi s'"}],
   "mark": {"type": "line", "clip": true, "strokeWidth": 2.5},
   "encoding": {
    "x": {"field": "e", "type": "quantitative", "scale": {"domain": [-15, 3], "nice": false, "zero": false}, "axis": {"orient": "top", "values": [-15,-13.5,-12,-10.5,-9,-7.5,-6,-4.5,-3,-1.5,0,1.5,3], "labels": false, "title": null}},
    "y": {"field": "v", "type": "quantitative", "scale": {"domain": [0, 8], "nice": false, "zero": false}, "axis": {"orient": "right", "values": [0,1,2,3,4,5,6,7,8], "labels": false, "title": null}},
    "color": {"field": "k", "type": "nominal", "scale": {"domain": ["Total","Bi s","Bi p","Mg"], "range": ["#8d8f92","#ee3224","#f7941d","#7ac143"]}}
   }},
  {"transform": [{"filter": "datum.p == 'HSE+SOC' && datum.k == 'Bi p'"}],
   "mark": {"type": "line", "clip": true, "strokeWidth": 2.5},
   "encoding": {
    "x": {"field": "e", "type": "quantitative", "scale": {"domain": [-15, 3], "nice": false, "zero": false}, "axis": null},
    "y": {"field": "v", "type": "quantitative", "scale": {"domain": [0, 8], "nice": false, "zero": false}, "axis": null},
    "color": {"field": "k", "type": "nominal", "scale": {"domain": ["Total","Bi s","Bi p","Mg"], "range": ["#8d8f92","#ee3224","#f7941d","#7ac143"]}}
   }},
  {"transform": [{"filter": "datum.p == 'HSE+SOC' && datum.k == 'Mg'"}],
   "mark": {"type": "line", "clip": true, "strokeWidth": 2.5},
   "encoding": {
    "x": {"field": "e", "type": "quantitative", "scale": {"domain": [-15, 3], "nice": false, "zero": false}, "axis": null},
    "y": {"field": "v", "type": "quantitative", "scale": {"domain": [0, 8], "nice": false, "zero": false}, "axis": null},
    "color": {"field": "k", "type": "nominal", "scale": {"domain": ["Total","Bi s","Bi p","Mg"], "range": ["#8d8f92","#ee3224","#f7941d","#7ac143"]}}
   }},
  {"data": {"values": [{"label": "HSE+SOC"}]},
   "mark": {"type": "text", "align": "left", "baseline": "middle", "fontSize": 26, "color": "black"},
   "encoding": {
    "x": {"datum": -10.0, "type": "quantitative", "axis": null},
    "y": {"datum": 6.6, "type": "quantitative", "axis": null},
    "text": {"field": "label"}
   }}
 ],
 "resolve": {"axis": {"x": "independent", "y": "independent"}}
}
]
}
